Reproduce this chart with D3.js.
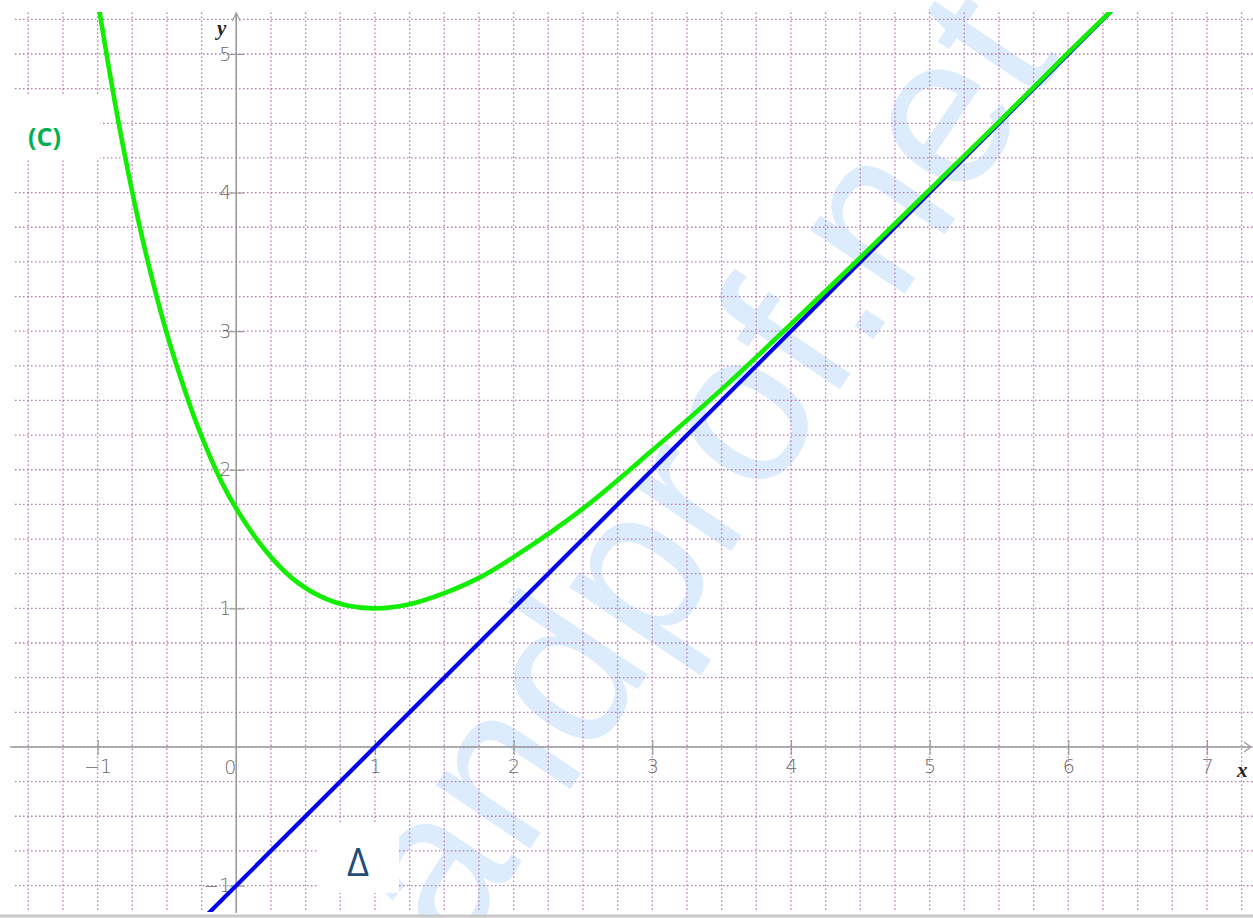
<!DOCTYPE html>
<html><head><meta charset="utf-8">
<script src="https://cdn.jsdelivr.net/npm/d3@7"></script>
<style>html,body{margin:0;padding:0;background:#fff;overflow:hidden}</style>
</head><body><svg id="c" width="1253" height="918"></svg>
<script>
// ---- data ----
const xTickValues = [-1, 1, 2, 3, 4, 5, 6, 7];
const yTickValues = [-1, 1, 2, 3, 4, 5];
const originLabel = "0";
// curve (C)
const curveX = [-1.0, -0.9, -0.8, -0.7, -0.6, -0.5, -0.4, -0.3, -0.2, -0.1, 0.0, 0.2, 0.4, 0.6, 0.8, 1.0, 1.25, 1.5, 1.75, 2.0, 2.5, 3.0, 3.5, 4.0, 4.5, 5.0, 5.5, 6.0, 6.4];
const curveY = [5.39, 4.79, 4.25, 3.77, 3.35, 2.98, 2.66, 2.37, 2.12, 1.90, 1.72, 1.43, 1.22, 1.09, 1.02, 1.00, 1.03, 1.11, 1.22, 1.37, 1.72, 2.14, 2.58, 3.05, 3.53, 4.02, 4.51, 5.01, 5.40];
// asymptote Δ
const lineX = [-0.25, 6.45];
const lineY = [-1.25, 5.45];
const curveLabel = "(C)";
const lineLabel = "Δ";
const watermark = "andprof.net";

const svg = d3.select("#c");
const W = 1253, H = 918;
const x = d3.scaleLinear().domain([-1.6, 7.33]).range([14.4, 1252.7]);
const y = d3.scaleLinear().domain([-1.19, 5.3]).range([911.9, 12.4]);

svg.append("rect").attr("width", W).attr("height", H).attr("fill", "#fff");

// watermark
svg.append("text")
  .attr("transform", "translate(455,960) rotate(-56)")
  .attr("font-family", "Liberation Sans, Arial, sans-serif")
  .attr("font-size", 215)
  .attr("fill", "#dcecfc")
  .text(watermark);

// grid
const gx = d3.range(-1.5, 7.26, 0.25);
const gy = d3.range(-1.0, 5.26, 0.25);
const grid = svg.append("g").attr("stroke", "#b060b0").attr("stroke-width", 1.3)
  .attr("stroke-dasharray", "1.5,2.5").attr("opacity", 0.85);
grid.selectAll("line.v").data(gx).join("line").attr("class", "v")
  .attr("x1", d => x(d)).attr("x2", d => x(d)).attr("y1", y(5.3)).attr("y2", y(-1.19));
grid.selectAll("line.h").data(gy).join("line").attr("class", "h")
  .attr("y1", d => y(d)).attr("y2", d => y(d)).attr("x1", 15).attr("x2", W);

// white boxes behind labels
svg.append("rect").attr("x", 10).attr("y", 96).attr("width", 90).attr("height", 63).attr("fill", "#fff");
svg.append("rect").attr("x", 318).attr("y", 822).attr("width", 81).attr("height", 71).attr("fill", "#fff");

// bottom frame line
svg.append("line").attr("x1", 0).attr("x2", W).attr("y1", 916).attr("y2", 916)
  .attr("stroke", "#c8c8c8").attr("stroke-width", 3);

// axes lines
const axisColor = "#9a9a9a";
svg.append("line").attr("x1", 10).attr("x2", 1251).attr("y1", y(0)).attr("y2", y(0))
  .attr("stroke", axisColor).attr("stroke-width", 1.5);
svg.append("line").attr("x1", x(0)).attr("x2", x(0)).attr("y1", 913).attr("y2", 13)
  .attr("stroke", axisColor).attr("stroke-width", 1.5);
svg.append("path").attr("d", `M1244,${y(0)-5} L1251,${y(0)} L1244,${y(0)+5}`)
  .attr("fill", "none").attr("stroke", axisColor).attr("stroke-width", 1.2);
svg.append("path").attr("d", `M${x(0)-4},21 L${x(0)},13 L${x(0)+4},21`)
  .attr("fill", "none").attr("stroke", axisColor).attr("stroke-width", 1.2);

const fmt = d => d < 0 ? "\u2212" + Math.abs(d) : String(d);
const tickFont = "DejaVu Sans, sans-serif";

const xa = svg.append("g").attr("transform", `translate(0,${y(0)})`)
  .call(d3.axisBottom(x).tickValues(xTickValues).tickFormat(fmt).tickSize(7).tickPadding(6));
xa.select(".domain").remove();
xa.selectAll(".tick line").attr("y1", -7).attr("y2", 8).attr("stroke", axisColor).attr("stroke-width", 1.2);
xa.selectAll(".tick text").attr("font-family", tickFont).attr("font-weight", 200)
  .attr("font-size", 19).attr("fill", "#6a6a6a").attr("y", 13);

const ya = svg.append("g").attr("transform", `translate(${x(0)},0)`)
  .call(d3.axisLeft(y).tickValues(yTickValues).tickFormat(fmt).tickSize(7).tickPadding(6));
ya.select(".domain").remove();
ya.selectAll(".tick line").attr("x1", -7).attr("x2", 8).attr("stroke", axisColor).attr("stroke-width", 1.2);
ya.selectAll(".tick text").attr("font-family", tickFont).attr("font-weight", 200)
  .attr("font-size", 19).attr("fill", "#6a6a6a").attr("x", -5);

svg.append("text").attr("x", x(0) - 6).attr("y", y(0) + 27).attr("text-anchor", "middle")
  .attr("font-family", tickFont).attr("font-weight", 200).attr("font-size", 19).attr("fill", "#6a6a6a")
  .text(originLabel);

// axis names
svg.append("text").attr("x", 217).attr("y", 35).attr("font-family", "Liberation Serif, serif")
  .attr("font-style", "italic").attr("font-weight", "bold").attr("font-size", 21).attr("fill", "#222").text("y");
svg.append("text").attr("x", 1237).attr("y", 777).attr("font-family", "Liberation Serif, serif")
  .attr("font-style", "italic").attr("font-weight", "bold").attr("font-size", 21).attr("fill", "#222").text("x");

// clip for curves
svg.append("clipPath").attr("id", "clip").append("rect")
  .attr("x", 0).attr("y", 12).attr("width", W).attr("height", 900);

const plot = svg.append("g").attr("clip-path", "url(#clip)");
const lineGen = d3.line().x(d => x(d[0])).y(d => y(d[1]));
plot.append("path").datum(d3.zip(lineX, lineY)).attr("d", lineGen)
  .attr("fill", "none").attr("stroke", "#0000ee").attr("stroke-width", 4.2);
plot.append("path").datum(d3.zip(curveX, curveY))
  .attr("d", lineGen.curve(d3.curveCatmullRom.alpha(0.5)))
  .attr("fill", "none").attr("stroke", "#11ee00").attr("stroke-width", 4.6);

// labels
svg.append("text").attr("x", 28).attr("y", 146).attr("font-family", "Open Sans, Liberation Sans, sans-serif")
  .attr("font-weight", "bold").attr("font-size", 25).attr("fill", "#00b050").text(curveLabel);
svg.append("text").attr("x", 358).attr("y", 876).attr("text-anchor", "middle")
  .attr("font-family", "Open Sans, Liberation Sans, sans-serif").attr("font-size", 38)
  .attr("fill", "#1f4e79").text(lineLabel);
</script></body></html>
